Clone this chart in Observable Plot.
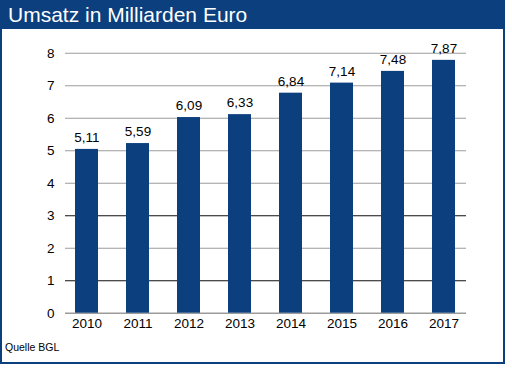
<!DOCTYPE html>
<html>
<head>
<meta charset="utf-8">
<script src="https://cdn.jsdelivr.net/npm/d3@7"></script>
<script src="https://cdn.jsdelivr.net/npm/@observablehq/plot@0.6"></script>
<style>
  html, body { margin: 0; padding: 0; background: #fff; }
  #frame { position: absolute; left: 0; top: 0; width: 505px; height: 364px; box-sizing: border-box; border: 2px solid #0b3f7e; }
  #title { position: absolute; left: 0; top: 0; width: 505px; height: 29px; background: #0b3f7e; color: #fff;
           font-family: "Liberation Sans", Arial, sans-serif; font-size: 21px; line-height: 30px; padding-left: 8px; box-sizing: border-box; z-index: 2; }
  #chart { position: absolute; left: 0; top: 29px; }
  #source { position: absolute; left: 5px; top: 341px; font-family: "Liberation Sans", Arial, sans-serif; font-size: 10.5px; color: #000; }
</style>
</head>
<body>
<div id="frame"></div>
<div id="title">Umsatz in Milliarden Euro</div>
<div id="chart"></div>
<div id="source">Quelle BGL</div>
<script>
const years = ["2010", "2011", "2012", "2013", "2014", "2015", "2016", "2017"];
const barValues = [5.04, 5.22, 6.02, 6.11, 6.77, 7.08, 7.44, 7.78];
const valueLabels = ["5,11", "5,59", "6,09", "6,33", "6,84", "7,14", "7,48", "7,87"];
const yTicks = [0, 1, 2, 3, 4, 5, 6, 7, 8];

const data = years.map((y, i) => ({year: y, value: barValues[i], label: valueLabels[i]}));

const chart = Plot.plot({
  width: 505,
  height: 311,
  marginLeft: 65,
  marginRight: 39,
  marginTop: 23.7,
  marginBottom: 27.3,
  style: {fontFamily: "'Liberation Sans', Arial, sans-serif", fontSize: "13.5px", color: "#000", background: "transparent"},
  x: {domain: years, paddingInner: 0.547, paddingOuter: 0.14, label: null, tickSize: 0, tickPadding: 5},
  y: {domain: [0, 8], ticks: yTicks, label: null, tickSize: 0, tickPadding: 11, tickFormat: d => String(d)},
  marks: [
    Plot.ruleY(yTicks, {stroke: d => (d === 1 || d === 3) ? "#111" : "#9c9c9c", strokeWidth: d => d === 0 ? 1.6 : 1.1}),
    Plot.barY(data, {x: "year", y: "value", fill: "#0b3f7e"}),
    Plot.text(data, {x: "year", y: "value", text: "label", dy: -11.5, fill: "#000", fontSize: 13.5})
  ]
});
document.getElementById("chart").appendChild(chart);
</script>
</body>
</html>
